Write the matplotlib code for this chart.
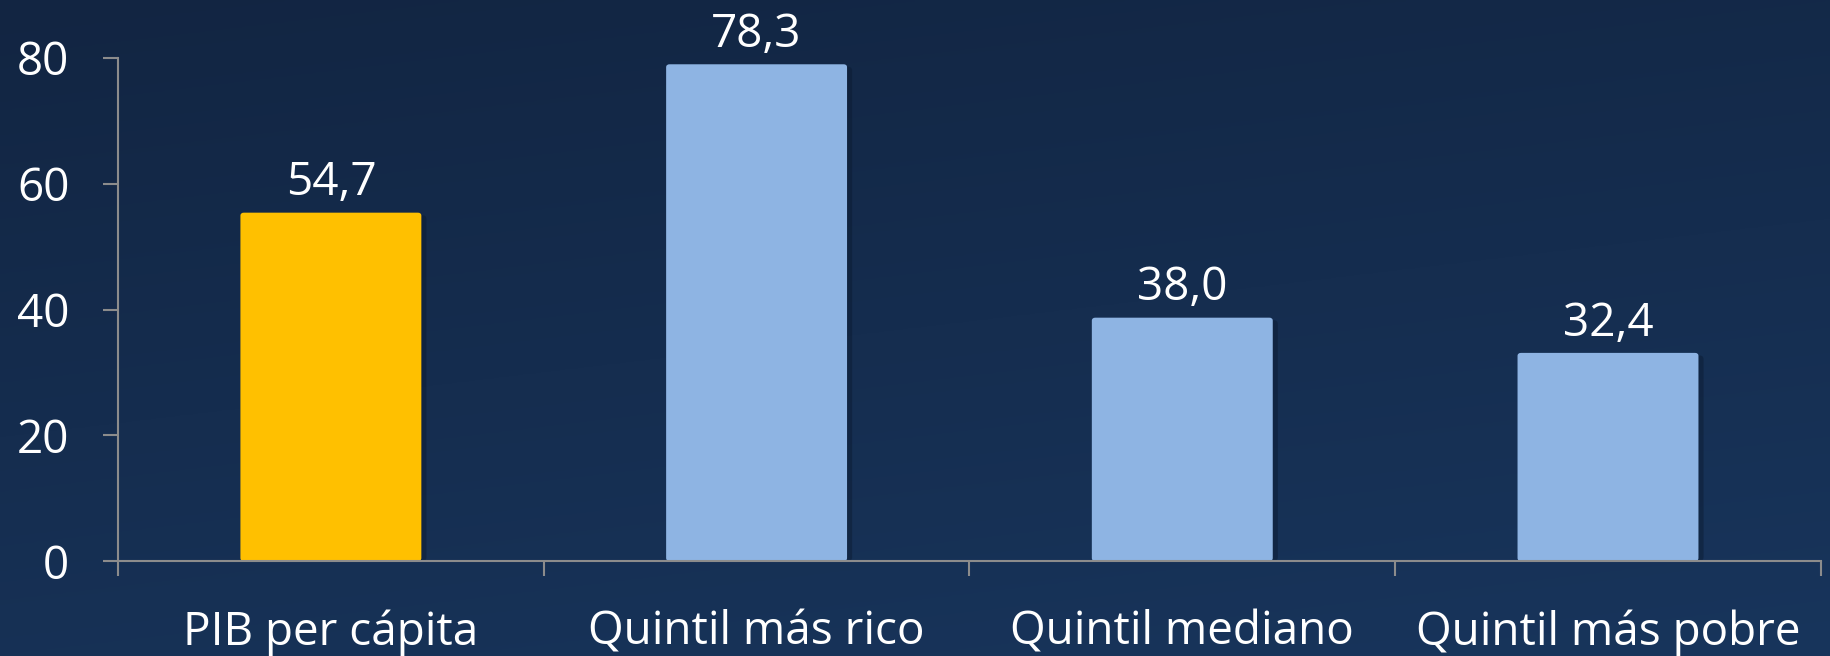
import numpy as np
import matplotlib
matplotlib.use("Agg")
import matplotlib.pyplot as plt
from matplotlib.patches import FancyBboxPatch

# data
categorias = ["PIB per cápita", "Quintil más rico", "Quintil mediano", "Quintil más pobre"]
valores = [54.7, 78.3, 38.0, 32.4]
etiquetas = ["54,7", "78,3", "38,0", "32,4"]
colores = ["#FFC000", "#8EB4E3", "#8EB4E3", "#8EB4E3"]
yticks = [0, 20, 40, 60, 80]

plt.rcParams["font.family"] = ["Open Sans", "DejaVu Sans"]

fig = plt.figure(figsize=(18.3, 6.56), dpi=100)

# background gradient
bg = fig.add_axes([0, 0, 1, 1], zorder=-10)
gy = np.linspace(0, 1, 256)[:, None]
gx = np.linspace(0, 1, 256)[None, :]
t = 0.75 * gy + 0.25 * gx
top = np.array([0x12, 0x25, 0x42]) / 255
bot = np.array([0x18, 0x35, 0x5C]) / 255
img = top[None, None, :] * (1 - t[..., None]) + bot[None, None, :] * t[..., None]
bg.imshow(img, aspect="auto", extent=[0, 1, 1, 0])
bg.set_axis_off()

ax = fig.add_axes([0.0645, 0.1448, 0.9305, 0.7668])
ax.patch.set_alpha(0)

x = np.arange(len(categorias))
ancho = 0.425

# shadows + rounded bars (small bevel on top)
for xi, v, c in zip(x, valores, colores):
    sh = FancyBboxPatch((xi - ancho / 2 + 0.012, 0), ancho, v + 0.3,
                        boxstyle="round,pad=0,rounding_size=0.01",
                        mutation_aspect=60, fc="#0b1a30", ec="none", alpha=0.45, zorder=1)
    ax.add_patch(sh)
    b = FancyBboxPatch((xi - ancho / 2, 0), ancho, v + 0.7,
                       boxstyle="round,pad=0,rounding_size=0.008",
                       mutation_aspect=60, fc=c, ec="none", zorder=2)
    ax.add_patch(b)

for xi, v, lab in zip(x, valores, etiquetas):
    ax.text(xi, v + 1.7, lab, ha="center", va="bottom", color="white", fontsize=33)

ax.set_xlim(-0.5, 3.5)
ax.set_ylim(0, 80)
ax.set_yticks(yticks)
ax.set_yticklabels([str(v) for v in yticks])
ax.set_xticks(x)
ax.set_xticklabels(categorias)
ax.set_xticks(np.arange(-0.5, 4, 1), minor=True)

for s in ["top", "right"]:
    ax.spines[s].set_visible(False)
for s in ["left", "bottom"]:
    ax.spines[s].set_color("#8c8c8c")
    ax.spines[s].set_linewidth(1.5)
ax.spines["left"].set_bounds(0, 80)

ax.tick_params(axis="y", colors="#8c8c8c", length=11, width=1.5, labelsize=33,
               labelcolor="white", pad=24)
ax.tick_params(axis="x", which="major", length=0, labelsize=33, labelcolor="white", pad=35)
ax.tick_params(axis="x", which="minor", length=11, width=1.5, colors="#8c8c8c")

fig.savefig("out.png", dpi=100)
